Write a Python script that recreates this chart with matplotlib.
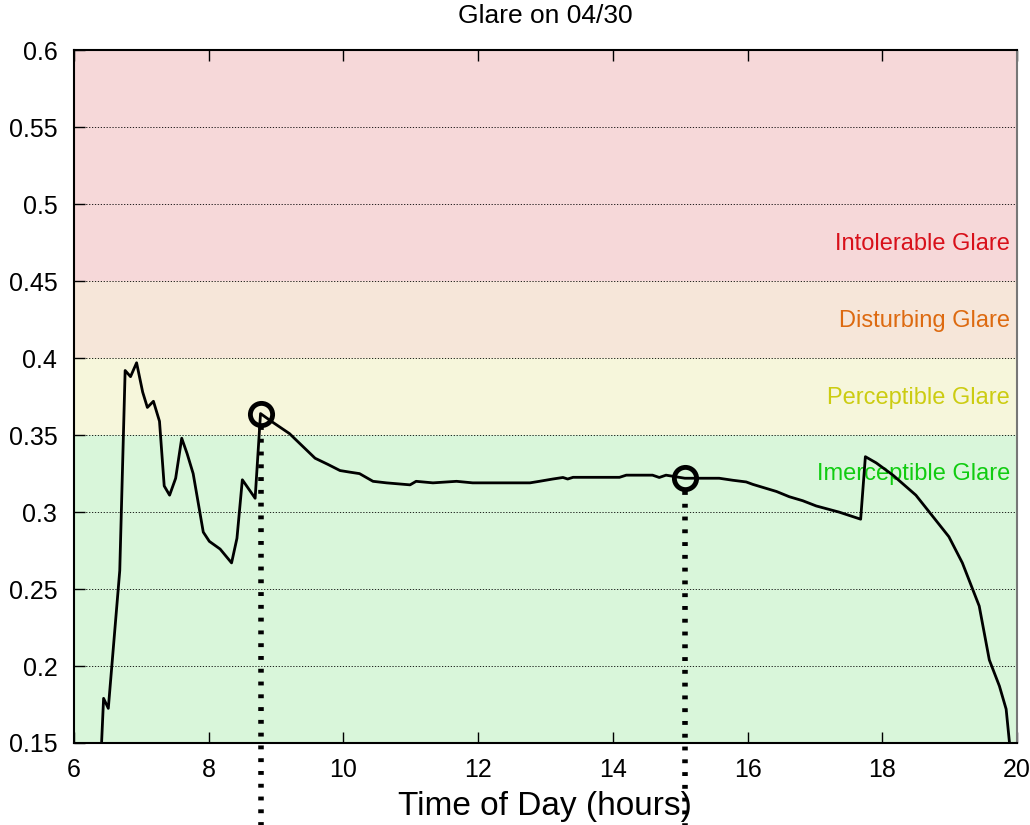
import matplotlib
matplotlib.use('Agg')
import matplotlib.pyplot as plt

plt.rcParams['font.family'] = ['Liberation Sans', 'DejaVu Sans']

# glare curve (hour of day, glare index)
hours = [6.41, 6.44, 6.51, 6.68, 6.76, 6.84, 6.93, 7.02, 7.09, 7.18, 7.27,
         7.34, 7.42, 7.51, 7.60, 7.68, 7.77, 7.92, 8.01, 8.17, 8.34, 8.42,
         8.50, 8.69, 8.77, 8.93, 9.20, 9.58, 9.77, 9.95, 10.09, 10.24,
         10.44, 10.64, 10.99, 11.08, 11.33, 11.68, 11.92, 12.77, 12.91,
         13.11, 13.26, 13.33, 13.41, 14.10, 14.20, 14.59, 14.69, 14.79,
         15.07, 15.29, 15.58, 15.78, 15.98, 16.08, 16.43, 16.62, 16.82,
         17.02, 17.36, 17.68, 17.75, 17.91, 18.16, 18.50, 18.70, 18.99,
         19.19, 19.44, 19.59, 19.74, 19.84, 19.89]
glare = [0.150, 0.179, 0.1725, 0.262, 0.392, 0.388, 0.397, 0.378, 0.368,
         0.372, 0.359, 0.317, 0.311, 0.322, 0.348, 0.338, 0.325, 0.287,
         0.281, 0.276, 0.267, 0.283, 0.321, 0.309, 0.364, 0.359, 0.351,
         0.335, 0.331, 0.327, 0.326, 0.325, 0.320, 0.319, 0.3177, 0.320,
         0.319, 0.320, 0.319, 0.319, 0.320, 0.3215, 0.3225, 0.3215, 0.3226,
         0.3226, 0.324, 0.324, 0.3225, 0.324, 0.322, 0.322, 0.322, 0.3207,
         0.3196, 0.318, 0.3134, 0.310, 0.3074, 0.304, 0.300, 0.2954, 0.336,
         0.332, 0.324, 0.311, 0.300, 0.284, 0.267, 0.239, 0.204, 0.187,
         0.172, 0.150]

# marked points
mark_hours = [8.77, 15.07]
mark_glare = [0.364, 0.322]

# glare zones
zone_names = ['Imerceptible Glare', 'Perceptible Glare', 'Disturbing Glare', 'Intolerable Glare']
zone_lo = [0.15, 0.35, 0.40, 0.45]
zone_hi = [0.35, 0.40, 0.45, 0.60]
zone_label_y = [0.325, 0.374, 0.424, 0.474]
zone_fill = ['#d9f6da', '#f6f6db', '#f6e6d9', '#f6d8d9']
zone_text = ['#11cc11', '#cccc11', '#dd6a10', '#d8101a']

yticks = [0.15, 0.2, 0.25, 0.3, 0.35, 0.4, 0.45, 0.5, 0.55, 0.6]
xticks = [6, 8, 10, 12, 14, 16, 18, 20]

fig = plt.figure(figsize=(10.3, 8.25), dpi=100)
ax = fig.add_axes([0.0718, 0.0994, 0.9155, 0.8396])

for lo, hi, fc in zip(zone_lo, zone_hi, zone_fill):
    ax.axhspan(lo, hi, color=fc, lw=0, zorder=0)
for name, yl, tc in zip(zone_names, zone_label_y, zone_text):
    ax.text(19.9, yl, name, color=tc, fontsize=17, ha='right', va='center', zorder=2)

for yt in yticks[1:-1]:
    ax.axhline(yt, color='black', lw=0.6, ls=(0, (1.5, 2)), zorder=1)

ax.plot(hours, glare, color='black', lw=2, zorder=3)

for mh, mg in zip(mark_hours, mark_glare):
    ax.plot([mh, mh], [mg - 0.008, 0.05], color='black', lw=4,
            ls=(0, (0.7, 1.6)), clip_on=False, zorder=3)
ax.plot(mark_hours, mark_glare, 'o', ms=16, mfc='none', mec='black', mew=3.5,
        zorder=4, clip_on=False)

ax.set_xlim(6, 20)
ax.set_ylim(0.15, 0.6)
ax.set_xticks(xticks)
ax.set_yticks(yticks)
ax.set_yticklabels(['%g' % v for v in yticks])
ax.tick_params(axis='x', direction='in', top=True, length=8, width=1, labelsize=18, pad=11)
ax.tick_params(axis='y', direction='in', length=8, width=1, labelsize=18, pad=12)
for s in ax.spines.values():
    s.set_linewidth(1.5)
ax.spines['right'].set_color('#777777')

ax.set_title('Glare on 04/30', fontsize=19, pad=20)
ax.set_xlabel('Time of Day (hours)', fontsize=24, labelpad=6)

fig.savefig('out.png', dpi=100)
